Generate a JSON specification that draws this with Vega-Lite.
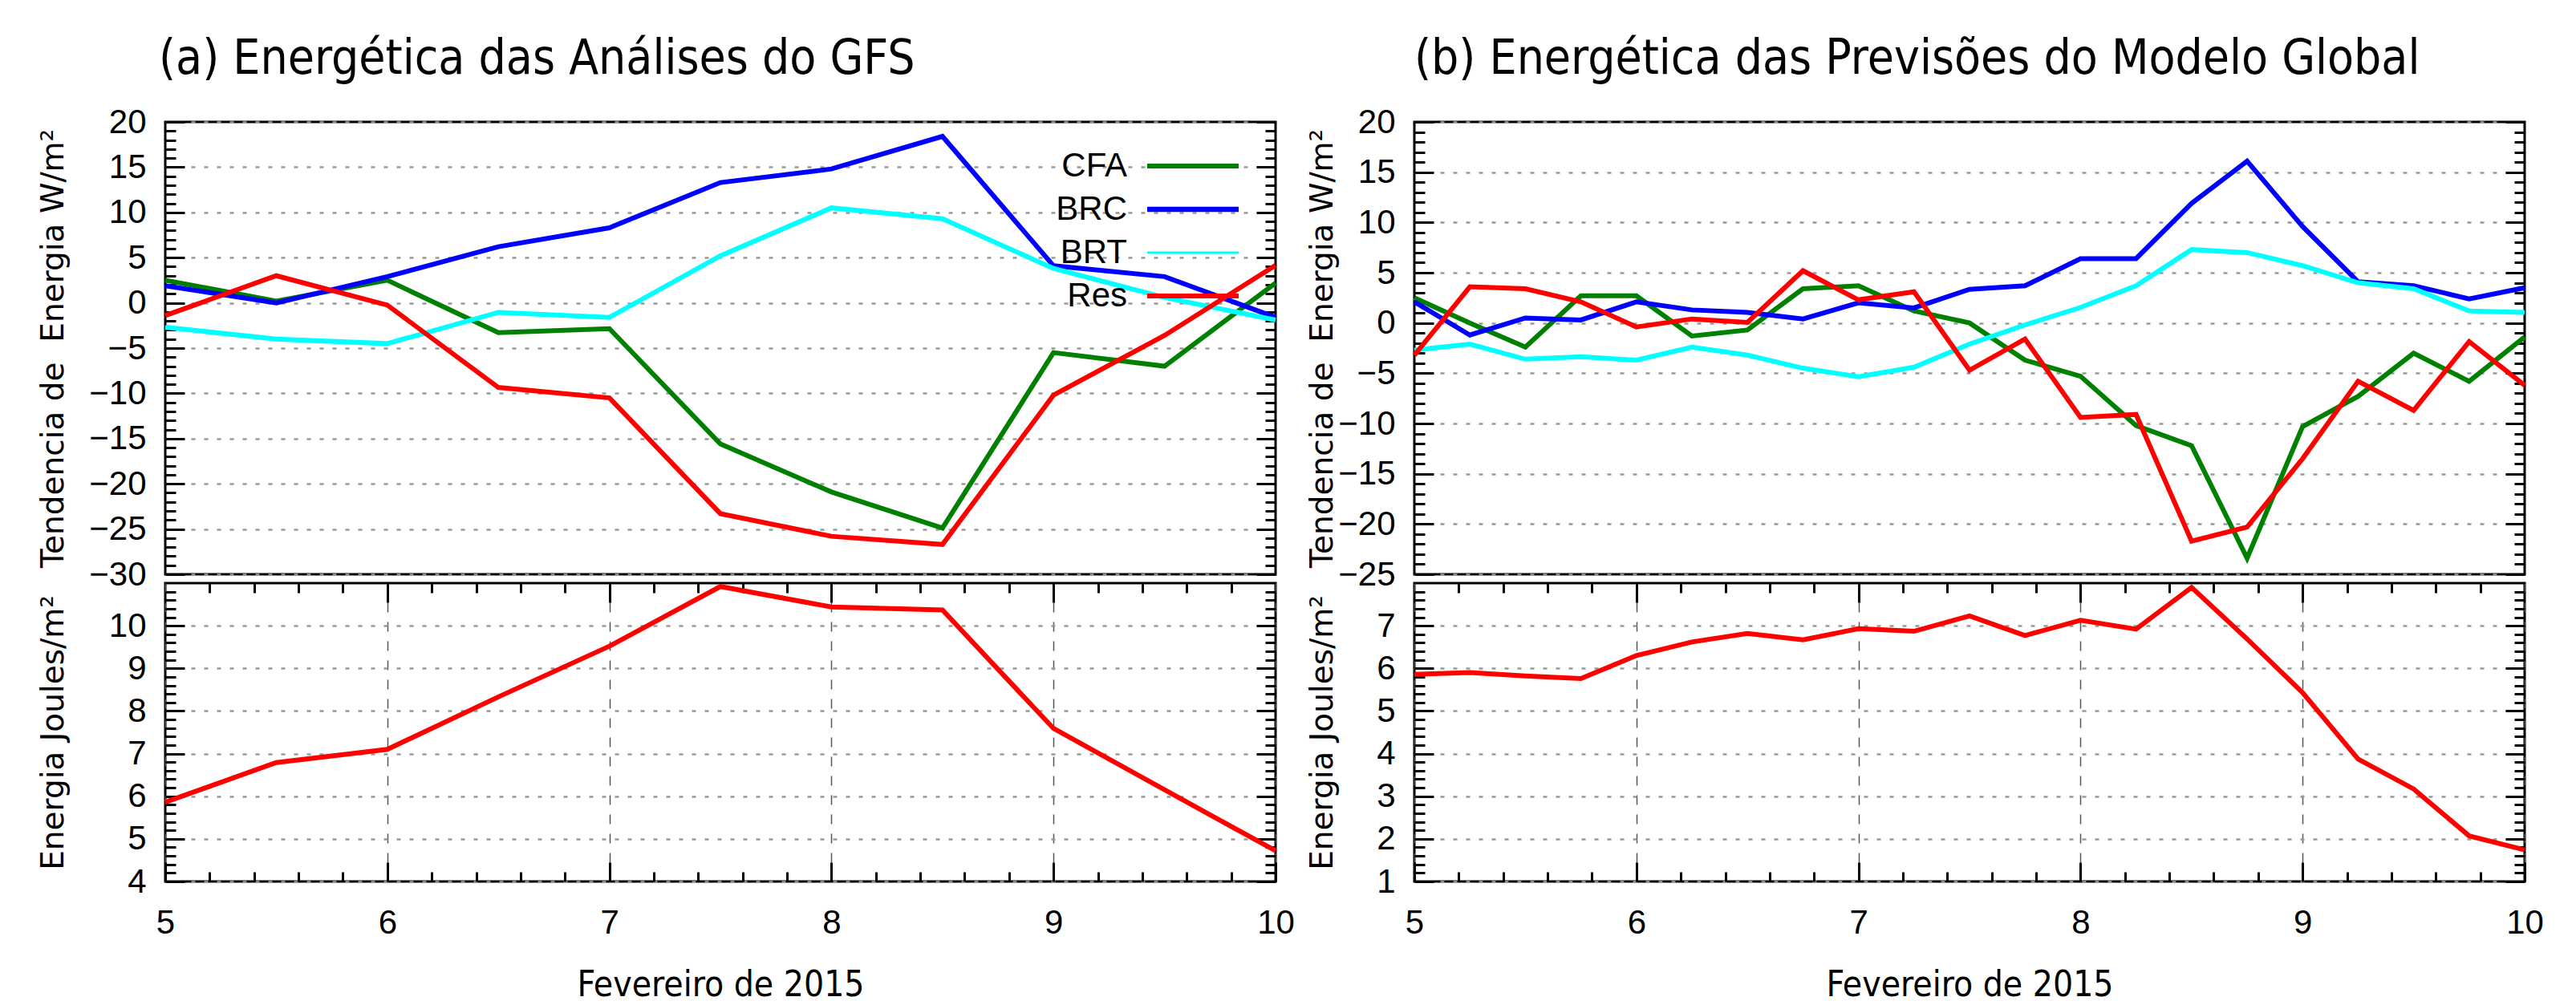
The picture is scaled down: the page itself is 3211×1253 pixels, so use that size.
{
  "$schema": "https://vega.github.io/schema/vega-lite/v6.json",
  "autosize": {"type": "none"},
  "padding": {"left": 206, "top": 152, "right": 3005, "bottom": 1101},
  "background": "white",
  "config": {
    "view": {"stroke": "black", "strokeWidth": 3},
    "axis": {"labelFont": "Liberation Sans", "labelFontSize": 42, "labelColor": "black", "tickColor": "black", "tickWidth": 3, "domain": false, "labelFlush": false, "labelOverlap": false, "titleColor": "black", "titleFontWeight": "normal"}
  },
  "datasets": {
    "a_top": [
      {"series":"CFA","day":5,"value":2.5},{"series":"CFA","day":5.5,"value":0.2},{"series":"CFA","day":6,"value":2.5},{"series":"CFA","day":6.5,"value":-3.3},{"series":"CFA","day":7,"value":-2.85},{"series":"CFA","day":7.5,"value":-15.6},{"series":"CFA","day":8,"value":-20.9},{"series":"CFA","day":8.5,"value":-24.9},{"series":"CFA","day":9,"value":-5.5},{"series":"CFA","day":9.5,"value":-7.0},{"series":"CFA","day":10,"value":2.2},
      {"series":"BRC","day":5,"value":1.9},{"series":"BRC","day":5.5,"value":0.0},{"series":"BRC","day":6,"value":2.9},{"series":"BRC","day":6.5,"value":6.2},{"series":"BRC","day":7,"value":8.3},{"series":"BRC","day":7.5,"value":13.3},{"series":"BRC","day":8,"value":14.8},{"series":"BRC","day":8.5,"value":18.4},{"series":"BRC","day":9,"value":4.1},{"series":"BRC","day":9.5,"value":2.9},{"series":"BRC","day":10,"value":-1.6},
      {"series":"BRT","day":5,"value":-2.7},{"series":"BRT","day":5.5,"value":-4.0},{"series":"BRT","day":6,"value":-4.5},{"series":"BRT","day":6.5,"value":-1.05},{"series":"BRT","day":7,"value":-1.6},{"series":"BRT","day":7.5,"value":5.2},{"series":"BRT","day":8,"value":10.5},{"series":"BRT","day":8.5,"value":9.3},{"series":"BRT","day":9,"value":3.8},{"series":"BRT","day":9.5,"value":0.6},{"series":"BRT","day":10,"value":-1.9},
      {"series":"Res","day":5,"value":-1.4},{"series":"Res","day":5.5,"value":3.0},{"series":"Res","day":6,"value":-0.25},{"series":"Res","day":6.5,"value":-9.35},{"series":"Res","day":7,"value":-10.5},{"series":"Res","day":7.5,"value":-23.3},{"series":"Res","day":8,"value":-25.8},{"series":"Res","day":8.5,"value":-26.7},{"series":"Res","day":9,"value":-10.2},{"series":"Res","day":9.5,"value":-3.6},{"series":"Res","day":10,"value":4.15}
    ],
    "a_bot": [
      {"day":5,"value":5.86},{"day":5.5,"value":6.79},{"day":6,"value":7.10},{"day":6.5,"value":8.33},{"day":7,"value":9.52},{"day":7.5,"value":10.92},{"day":8,"value":10.44},{"day":8.5,"value":10.37},{"day":9,"value":7.59},{"day":9.5,"value":6.15},{"day":10,"value":4.72}
    ],
    "b_top": [
      {"series":"CFA","day":5,"value":2.5},{"series":"CFA","day":5.25,"value":0.0},{"series":"CFA","day":5.5,"value":-2.4},{"series":"CFA","day":5.75,"value":2.7},{"series":"CFA","day":6,"value":2.7},{"series":"CFA","day":6.25,"value":-1.3},{"series":"CFA","day":6.5,"value":-0.7},{"series":"CFA","day":6.75,"value":3.4},{"series":"CFA","day":7,"value":3.7},{"series":"CFA","day":7.25,"value":1.2},{"series":"CFA","day":7.5,"value":0.0},{"series":"CFA","day":7.75,"value":-3.7},{"series":"CFA","day":8,"value":-5.3},{"series":"CFA","day":8.25,"value":-10.2},{"series":"CFA","day":8.5,"value":-12.2},{"series":"CFA","day":8.75,"value":-23.4},{"series":"CFA","day":9,"value":-10.3},{"series":"CFA","day":9.25,"value":-7.3},{"series":"CFA","day":9.5,"value":-3.0},{"series":"CFA","day":9.75,"value":-5.8},{"series":"CFA","day":10,"value":-1.4},
      {"series":"BRC","day":5,"value":2.1},{"series":"BRC","day":5.25,"value":-1.2},{"series":"BRC","day":5.5,"value":0.5},{"series":"BRC","day":5.75,"value":0.3},{"series":"BRC","day":6,"value":2.1},{"series":"BRC","day":6.25,"value":1.3},{"series":"BRC","day":6.5,"value":1.05},{"series":"BRC","day":6.75,"value":0.4},{"series":"BRC","day":7,"value":2.0},{"series":"BRC","day":7.25,"value":1.5},{"series":"BRC","day":7.5,"value":3.35},{"series":"BRC","day":7.75,"value":3.7},{"series":"BRC","day":8,"value":6.4},{"series":"BRC","day":8.25,"value":6.4},{"series":"BRC","day":8.5,"value":11.9},{"series":"BRC","day":8.75,"value":16.1},{"series":"BRC","day":9,"value":9.6},{"series":"BRC","day":9.25,"value":4.1},{"series":"BRC","day":9.5,"value":3.7},{"series":"BRC","day":9.75,"value":2.4},{"series":"BRC","day":10,"value":3.5},
      {"series":"BRT","day":5,"value":-2.7},{"series":"BRT","day":5.25,"value":-2.1},{"series":"BRT","day":5.5,"value":-3.6},{"series":"BRT","day":5.75,"value":-3.35},{"series":"BRT","day":6,"value":-3.7},{"series":"BRT","day":6.25,"value":-2.4},{"series":"BRT","day":6.5,"value":-3.2},{"series":"BRT","day":6.75,"value":-4.5},{"series":"BRT","day":7,"value":-5.35},{"series":"BRT","day":7.25,"value":-4.4},{"series":"BRT","day":7.5,"value":-2.1},{"series":"BRT","day":7.75,"value":-0.2},{"series":"BRT","day":8,"value":1.55},{"series":"BRT","day":8.25,"value":3.7},{"series":"BRT","day":8.5,"value":7.3},{"series":"BRT","day":8.75,"value":7.0},{"series":"BRT","day":9,"value":5.7},{"series":"BRT","day":9.25,"value":4.0},{"series":"BRT","day":9.5,"value":3.4},{"series":"BRT","day":9.75,"value":1.2},{"series":"BRT","day":10,"value":1.05},
      {"series":"Res","day":5,"value":-3.2},{"series":"Res","day":5.25,"value":3.6},{"series":"Res","day":5.5,"value":3.4},{"series":"Res","day":5.75,"value":2.1},{"series":"Res","day":6,"value":-0.4},{"series":"Res","day":6.25,"value":0.4},{"series":"Res","day":6.5,"value":0.05},{"series":"Res","day":6.75,"value":5.2},{"series":"Res","day":7,"value":2.3},{"series":"Res","day":7.25,"value":3.1},{"series":"Res","day":7.5,"value":-4.7},{"series":"Res","day":7.75,"value":-1.6},{"series":"Res","day":8,"value":-9.4},{"series":"Res","day":8.25,"value":-9.1},{"series":"Res","day":8.5,"value":-21.7},{"series":"Res","day":8.75,"value":-20.3},{"series":"Res","day":9,"value":-13.5},{"series":"Res","day":9.25,"value":-5.8},{"series":"Res","day":9.5,"value":-8.7},{"series":"Res","day":9.75,"value":-1.85},{"series":"Res","day":10,"value":-6.2}
    ],
    "b_bot": [
      {"day":5,"value":5.86},{"day":5.25,"value":5.90},{"day":5.5,"value":5.82},{"day":5.75,"value":5.76},{"day":6,"value":6.30},{"day":6.25,"value":6.62},{"day":6.5,"value":6.82},{"day":6.75,"value":6.67},{"day":7,"value":6.93},{"day":7.25,"value":6.87},{"day":7.5,"value":7.23},{"day":7.75,"value":6.77},{"day":8,"value":7.13},{"day":8.25,"value":6.92},{"day":8.5,"value":7.90},{"day":8.75,"value":6.69},{"day":9,"value":5.43},{"day":9.25,"value":3.87},{"day":9.5,"value":3.17},{"day":9.75,"value":2.07},{"day":10,"value":1.74}
    ]
  },
  "columns": 2,
  "spacing": {"row": 11, "column": 173},
  "bounds": "flush",
  "concat": [
    {
      "title": {"text": "(a) Energética das Análises do GFS", "anchor": "start", "frame": "group", "font": "DejaVu Sans Condensed, DejaVu Sans", "fontSize": 60, "fontWeight": "normal", "color": "black", "baseline": "alphabetic", "offset": 41, "dy": 62, "dx": -8},
      "width": 1384, "height": 564,
      "data": {"name": "a_top"},
      "resolve": {"axis": {"y": "independent"}},
      "layer": [
        {
          "mark": {"type": "line", "strokeWidth": 6},
          "encoding": {
            "x": {"field": "day", "type": "quantitative", "scale": {"domain": [5, 10], "nice": false, "zero": false},
                  "axis": {"orient": "bottom", "values": [6, 7, 8, 9], "labels": false, "ticks": false, "domain": false, "grid": true, "gridDash": [12, 12], "gridColor": "#555555", "gridWidth": 1.5, "title": null}},
            "y": {"field": "value", "type": "quantitative", "scale": {"domain": [-30, 20], "nice": false, "zero": false},
                  "axis": {"orient": "left", "values": [-30, -25, -20, -15, -10, -5, 0, 5, 10, 15, 20], "tickSize": -24, "labelPadding": 48, "grid": true, "gridDash": [5, 11], "gridColor": "#999999", "gridWidth": 2.5,
                           "title": "Tendencia de\u00a0 Energia W/m²", "titleFont": "DejaVu Sans", "titleFontSize": 39, "titleX": -128, "titleBaseline": "alphabetic", "titleAngle": 270}},
            "color": {"field": "series", "type": "nominal", "scale": {"domain": ["CFA", "BRC", "BRT", "Res"], "range": ["#008000", "#0000ff", "#00ffff", "#ff0000"]},
                      "legend": {"orient": "none", "legendX": 1260, "legendY": 34, "title": null, "symbolType": "M-5,0H5", "symbolSize": 520, "labelAlign": "right", "labelOffset": -103, "labelFont": "Liberation Sans", "labelFontSize": 42, "labelColor": "black", "rowPadding": 12, "padding": 0, "symbolStrokeWidth": 6,
                                 "encode": {"symbols": {"update": {"strokeWidth": {"signal": "datum.value === 'BRT' ? 3 : datum.value === 'BRC' ? 6.5 : 6"}}}}}},
            "strokeWidth": {"condition": [{"test": "datum.series === 'BRT'", "value": 3}, {"test": "datum.series === 'BRC'", "value": 6.5}], "value": 6}
          }
        },
        {
          "mark": {"type": "point", "opacity": 0},
          "encoding": {
            "x": {"field": "day", "type": "quantitative", "axis": null},
            "y": {"field": "value", "type": "quantitative", "axis": {"orient": "left", "values": [-29,-28,-27,-26,-24,-23,-22,-21,-19,-18,-17,-16,-14,-13,-12,-11,-9,-8,-7,-6,-4,-3,-2,-1,1,2,3,4,6,7,8,9,11,12,13,14,16,17,18,19], "tickSize": -13, "labels": false, "grid": false, "domain": false, "title": null}}
          }
        },
        {
          "mark": {"type": "point", "opacity": 0},
          "encoding": {
            "x": {"field": "day", "type": "quantitative", "axis": null},
            "y": {"field": "value", "type": "quantitative", "axis": {"orient": "right", "values": [-30, -25, -20, -15, -10, -5, 0, 5, 10, 15, 20], "tickSize": -24, "labels": false, "grid": false, "domain": false, "title": null}}
          }
        },
        {
          "mark": {"type": "point", "opacity": 0},
          "encoding": {
            "x": {"field": "day", "type": "quantitative", "axis": null},
            "y": {"field": "value", "type": "quantitative", "axis": {"orient": "right", "values": [-29,-28,-27,-26,-24,-23,-22,-21,-19,-18,-17,-16,-14,-13,-12,-11,-9,-8,-7,-6,-4,-3,-2,-1,1,2,3,4,6,7,8,9,11,12,13,14,16,17,18,19], "tickSize": -13, "labels": false, "grid": false, "domain": false, "title": null}}
          }
        }
      ]
    },
    {
      "title": {"text": "(b) Energética das Previsões do Modelo Global", "anchor": "start", "frame": "group", "font": "DejaVu Sans Condensed, DejaVu Sans", "fontSize": 60, "fontWeight": "normal", "color": "black", "baseline": "alphabetic", "offset": 41, "dy": 62, "dx": 0},
      "width": 1384, "height": 564,
      "data": {"name": "b_top"},
      "resolve": {"axis": {"y": "independent"}},
      "layer": [
        {
          "mark": {"type": "line", "strokeWidth": 6},
          "encoding": {
            "x": {"field": "day", "type": "quantitative", "scale": {"domain": [5, 10], "nice": false, "zero": false},
                  "axis": {"orient": "bottom", "values": [6, 7, 8, 9], "labels": false, "ticks": false, "domain": false, "grid": true, "gridDash": [12, 12], "gridColor": "#555555", "gridWidth": 1.5, "title": null}},
            "y": {"field": "value", "type": "quantitative", "scale": {"domain": [-25, 20], "nice": false, "zero": false},
                  "axis": {"orient": "left", "values": [-25, -20, -15, -10, -5, 0, 5, 10, 15, 20], "tickSize": -24, "labelPadding": 48, "grid": true, "gridDash": [5, 11], "gridColor": "#999999", "gridWidth": 2.5,
                           "title": "Tendencia de\u00a0 Energia W/m²", "titleFont": "DejaVu Sans", "titleFontSize": 39, "titleX": -103, "titleBaseline": "alphabetic", "titleAngle": 270}},
            "color": {"field": "series", "type": "nominal", "scale": {"domain": ["CFA", "BRC", "BRT", "Res"], "range": ["#008000", "#0000ff", "#00ffff", "#ff0000"]},
                      "legend": {"orient": "none", "legendX": 1260, "legendY": 34, "title": null, "symbolType": "M-5,0H5", "symbolSize": 520, "labelAlign": "right", "labelOffset": -103, "labelFont": "Liberation Sans", "labelFontSize": 42, "labelColor": "black", "rowPadding": 12, "padding": 0, "symbolStrokeWidth": 6,
                                 "encode": {"symbols": {"update": {"strokeWidth": {"signal": "datum.value === 'BRT' ? 3 : datum.value === 'BRC' ? 6.5 : 6"}}}}}},
            "strokeWidth": {"condition": [{"test": "datum.series === 'BRT'", "value": 3}, {"test": "datum.series === 'BRC'", "value": 6.5}], "value": 6}
          }
        },
        {
          "mark": {"type": "point", "opacity": 0},
          "encoding": {
            "x": {"field": "day", "type": "quantitative", "axis": null},
            "y": {"field": "value", "type": "quantitative", "axis": {"orient": "left", "values": [-24,-23,-22,-21,-19,-18,-17,-16,-14,-13,-12,-11,-9,-8,-7,-6,-4,-3,-2,-1,1,2,3,4,6,7,8,9,11,12,13,14,16,17,18,19], "tickSize": -13, "labels": false, "grid": false, "domain": false, "title": null}}
          }
        },
        {
          "mark": {"type": "point", "opacity": 0},
          "encoding": {
            "x": {"field": "day", "type": "quantitative", "axis": null},
            "y": {"field": "value", "type": "quantitative", "axis": {"orient": "right", "values": [-25, -20, -15, -10, -5, 0, 5, 10, 15, 20], "tickSize": -24, "labels": false, "grid": false, "domain": false, "title": null}}
          }
        },
        {
          "mark": {"type": "point", "opacity": 0},
          "encoding": {
            "x": {"field": "day", "type": "quantitative", "axis": null},
            "y": {"field": "value", "type": "quantitative", "axis": {"orient": "right", "values": [-24,-23,-22,-21,-19,-18,-17,-16,-14,-13,-12,-11,-9,-8,-7,-6,-4,-3,-2,-1,1,2,3,4,6,7,8,9,11,12,13,14,16,17,18,19], "tickSize": -13, "labels": false, "grid": false, "domain": false, "title": null}}
          }
        }
      ]
    },
    {
      "width": 1384, "height": 372,
      "data": {"name": "a_bot"},
      "resolve": {"axis": {"x": "independent", "y": "independent"}},
      "layer": [
        {
          "mark": {"type": "line", "color": "#ff0000", "strokeWidth": 6},
          "encoding": {
            "x": {"field": "day", "type": "quantitative", "scale": {"domain": [5, 10], "nice": false, "zero": false},
                  "axis": {"orient": "bottom", "values": [5, 6, 7, 8, 9, 10], "tickSize": -24, "labelPadding": 55, "grid": true, "gridDash": [12, 12], "gridColor": "#555555", "gridWidth": 1.5, "domain": false,
                           "title": "Fevereiro de 2015", "titleFont": "DejaVu Sans Condensed, DejaVu Sans", "titleFontSize": 44, "titleY": 142, "titleBaseline": "alphabetic"}},
            "y": {"field": "value", "type": "quantitative", "scale": {"domain": [4, 11], "nice": false, "zero": false},
                  "axis": {"orient": "left", "values": [4, 5, 6, 7, 8, 9, 10], "tickSize": -24, "labelPadding": 48, "grid": true, "gridDash": [5, 11], "gridColor": "#999999", "gridWidth": 2.5,
                           "title": "Energia Joules/m²", "titleFont": "DejaVu Sans", "titleFontSize": 39, "titleX": -128, "titleBaseline": "alphabetic", "titleAngle": 270}}
          }
        },
        {
          "mark": {"type": "point", "opacity": 0},
          "encoding": {
            "x": {"field": "day", "type": "quantitative", "axis": {"orient": "bottom", "values": [5.2,5.4,5.6,5.8,6.2,6.4,6.6,6.8,7.2,7.4,7.6,7.8,8.2,8.4,8.6,8.8,9.2,9.4,9.6,9.8], "tickSize": -12, "labels": false, "grid": false, "domain": false, "title": null}},
            "y": {"field": "value", "type": "quantitative", "axis": {"orient": "left", "values": [4.2,4.4,4.6,4.8,5.2,5.4,5.6,5.8,6.2,6.4,6.6,6.8,7.2,7.4,7.6,7.8,8.2,8.4,8.6,8.8,9.2,9.4,9.6,9.8,10.2,10.4,10.6,10.8], "tickSize": -13, "labels": false, "grid": false, "domain": false, "title": null}}
          }
        },
        {
          "mark": {"type": "point", "opacity": 0},
          "encoding": {
            "x": {"field": "day", "type": "quantitative", "axis": {"orient": "top", "values": [6, 7, 8, 9], "tickSize": -24, "labels": false, "grid": false, "domain": false, "title": null}},
            "y": {"field": "value", "type": "quantitative", "axis": {"orient": "right", "values": [4, 5, 6, 7, 8, 9, 10], "tickSize": -24, "labels": false, "grid": false, "domain": false, "title": null}}
          }
        },
        {
          "mark": {"type": "point", "opacity": 0},
          "encoding": {
            "x": {"field": "day", "type": "quantitative", "axis": {"orient": "top", "values": [5.2,5.4,5.6,5.8,6.2,6.4,6.6,6.8,7.2,7.4,7.6,7.8,8.2,8.4,8.6,8.8,9.2,9.4,9.6,9.8], "tickSize": -12, "labels": false, "grid": false, "domain": false, "title": null}},
            "y": {"field": "value", "type": "quantitative", "axis": {"orient": "right", "values": [4.2,4.4,4.6,4.8,5.2,5.4,5.6,5.8,6.2,6.4,6.6,6.8,7.2,7.4,7.6,7.8,8.2,8.4,8.6,8.8,9.2,9.4,9.6,9.8,10.2,10.4,10.6,10.8], "tickSize": -13, "labels": false, "grid": false, "domain": false, "title": null}}
          }
        }
      ]
    },
    {
      "width": 1384, "height": 372,
      "data": {"name": "b_bot"},
      "resolve": {"axis": {"x": "independent", "y": "independent"}},
      "layer": [
        {
          "mark": {"type": "line", "color": "#ff0000", "strokeWidth": 6},
          "encoding": {
            "x": {"field": "day", "type": "quantitative", "scale": {"domain": [5, 10], "nice": false, "zero": false},
                  "axis": {"orient": "bottom", "values": [5, 6, 7, 8, 9, 10], "tickSize": -24, "labelPadding": 55, "grid": true, "gridDash": [12, 12], "gridColor": "#555555", "gridWidth": 1.5, "domain": false,
                           "title": "Fevereiro de 2015", "titleFont": "DejaVu Sans Condensed, DejaVu Sans", "titleFontSize": 44, "titleY": 142, "titleBaseline": "alphabetic"}},
            "y": {"field": "value", "type": "quantitative", "scale": {"domain": [1, 8], "nice": false, "zero": false},
                  "axis": {"orient": "left", "values": [1, 2, 3, 4, 5, 6, 7], "tickSize": -24, "labelPadding": 48, "grid": true, "gridDash": [5, 11], "gridColor": "#999999", "gridWidth": 2.5,
                           "title": "Energia Joules/m²", "titleFont": "DejaVu Sans", "titleFontSize": 39, "titleX": -103, "titleBaseline": "alphabetic", "titleAngle": 270}}
          }
        },
        {
          "mark": {"type": "point", "opacity": 0},
          "encoding": {
            "x": {"field": "day", "type": "quantitative", "axis": {"orient": "bottom", "values": [5.2,5.4,5.6,5.8,6.2,6.4,6.6,6.8,7.2,7.4,7.6,7.8,8.2,8.4,8.6,8.8,9.2,9.4,9.6,9.8], "tickSize": -12, "labels": false, "grid": false, "domain": false, "title": null}},
            "y": {"field": "value", "type": "quantitative", "axis": {"orient": "left", "values": [1.2,1.4,1.6,1.8,2.2,2.4,2.6,2.8,3.2,3.4,3.6,3.8,4.2,4.4,4.6,4.8,5.2,5.4,5.6,5.8,6.2,6.4,6.6,6.8,7.2,7.4,7.6,7.8], "tickSize": -13, "labels": false, "grid": false, "domain": false, "title": null}}
          }
        },
        {
          "mark": {"type": "point", "opacity": 0},
          "encoding": {
            "x": {"field": "day", "type": "quantitative", "axis": {"orient": "top", "values": [6, 7, 8, 9], "tickSize": -24, "labels": false, "grid": false, "domain": false, "title": null}},
            "y": {"field": "value", "type": "quantitative", "axis": {"orient": "right", "values": [1, 2, 3, 4, 5, 6, 7], "tickSize": -24, "labels": false, "grid": false, "domain": false, "title": null}}
          }
        },
        {
          "mark": {"type": "point", "opacity": 0},
          "encoding": {
            "x": {"field": "day", "type": "quantitative", "axis": {"orient": "top", "values": [5.2,5.4,5.6,5.8,6.2,6.4,6.6,6.8,7.2,7.4,7.6,7.8,8.2,8.4,8.6,8.8,9.2,9.4,9.6,9.8], "tickSize": -12, "labels": false, "grid": false, "domain": false, "title": null}},
            "y": {"field": "value", "type": "quantitative", "axis": {"orient": "right", "values": [1.2,1.4,1.6,1.8,2.2,2.4,2.6,2.8,3.2,3.4,3.6,3.8,4.2,4.4,4.6,4.8,5.2,5.4,5.6,5.8,6.2,6.4,6.6,6.8,7.2,7.4,7.6,7.8], "tickSize": -13, "labels": false, "grid": false, "domain": false, "title": null}}
          }
        }
      ]
    }
  ]
}
